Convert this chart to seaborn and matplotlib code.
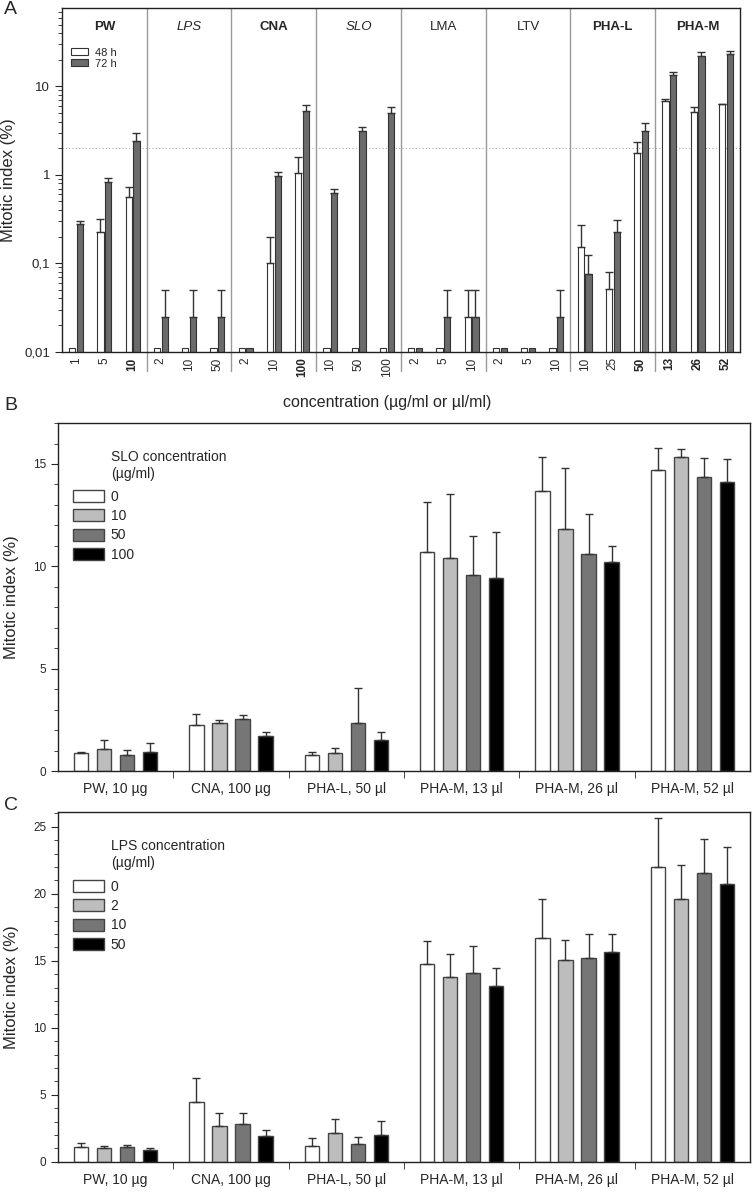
import numpy as np
import pandas as pd
import matplotlib
matplotlib.use("Agg")
import matplotlib.pyplot as plt
import matplotlib.ticker as mticker
from matplotlib.patches import Patch
from matplotlib.container import BarContainer
import seaborn as sns

# ---------------- data ----------------
# panel A: mitogens, 3 concentrations each, 48 h and 72 h
groups_a = ["PW", "LPS", "CNA", "SLO", "LMA", "LTV", "PHA-L", "PHA-M"]
group_style = ["bold", "italic", "bold", "italic", "normal", "normal", "bold", "bold"]
conc_a = ["1", "5", "10", "2", "10", "50", "2", "10", "100", "10", "50", "100",
          "2", "5", "10", "2", "5", "10", "10", "25", "50", "13", "26", "52"]
bold_conc = [2, 8, 20, 21, 22, 23]
mean_48 = [0.011, 0.228, 0.558, 0.011, 0.011, 0.011, 0.011, 0.10, 1.06,
           0.011, 0.011, 0.011, 0.011, 0.011, 0.025, 0.011, 0.011, 0.011,
           0.152, 0.051, 1.75, 6.85, 5.19, 6.29]
top_48 = [np.nan, 0.315, 0.724, np.nan, np.nan, np.nan, np.nan, 0.20, 1.58,
          np.nan, np.nan, np.nan, np.nan, np.nan, 0.05, np.nan, np.nan, np.nan,
          0.273, 0.080, 2.38, 7.28, 5.91, 6.40]
mean_72 = [0.279, 0.838, 2.40, 0.025, 0.025, 0.025, 0.011, 0.97, 5.32,
           0.629, 3.16, 4.98, 0.011, 0.025, 0.025, 0.011, 0.011, 0.025,
           0.075, 0.228, 3.14, 13.4, 22.1, 23.1]
top_72 = [0.303, 0.93, 3.0, 0.05, 0.05, 0.05, np.nan, 1.09, 6.22,
          0.687, 3.51, 5.91, np.nan, 0.05, 0.05, np.nan, np.nan, 0.05,
          0.124, 0.311, 3.84, 14.7, 24.4, 24.8]

# panels B and C: combinations
combos = ["PW, 10 µg", "CNA, 100 µg", "PHA-L, 50 µl",
          "PHA-M, 13 µl", "PHA-M, 26 µl", "PHA-M, 52 µl"]
slo_levels = ["0", "10", "50", "100"]
slo_mean = [[0.86, 1.06, 0.78, 0.91],
            [2.26, 2.36, 2.55, 1.69],
            [0.80, 0.86, 2.36, 1.53],
            [10.72, 10.42, 9.60, 9.43],
            [13.67, 11.82, 10.59, 10.23],
            [14.73, 15.35, 14.34, 14.10]]
slo_top = [[0.93, 1.50, 1.02, 1.38],
           [2.81, 2.50, 2.75, 1.89],
           [0.91, 1.14, 4.08, 1.92],
           [13.14, 13.53, 11.50, 11.70],
           [15.35, 14.81, 12.57, 11.01],
           [15.76, 15.72, 15.27, 15.22]]
lps_levels = ["0", "2", "10", "50"]
lps_mean = [[1.10, 1.05, 1.10, 0.90],
            [4.45, 2.70, 2.80, 1.90],
            [1.18, 2.17, 1.30, 2.00],
            [14.78, 13.76, 14.08, 13.14],
            [16.70, 15.03, 15.23, 15.66],
            [21.98, 19.63, 21.53, 20.75]]
lps_top = [[1.42, 1.18, 1.23, 1.05],
           [6.22, 3.67, 3.60, 2.35],
           [1.75, 3.22, 1.87, 3.07],
           [16.48, 15.50, 16.13, 14.49],
           [19.58, 16.55, 17.00, 17.00],
           [25.67, 22.17, 24.05, 23.52]]

time_colors = ["#ffffff", "#6b6b6b"]
level_colors = ["#ffffff", "#bdbdbd", "#767676", "#000000"]

sns.set_style("ticks")
plt.rcParams["font.family"] = ["Liberation Sans", "DejaVu Sans"]
plt.rcParams["axes.linewidth"] = 1.0
plt.rcParams["axes.edgecolor"] = "#222222"

fig = plt.figure(figsize=(7.52, 11.91), dpi=100)


def add_errors(ax, means, tops):
    # upper error bars drawn on the bars seaborn made
    bars = [c for c in ax.containers if isinstance(c, BarContainer)]
    for i, cont in enumerate(bars):
        for bar, m, t in zip(cont, means[i], tops[i]):
            if np.isnan(t):
                continue
            x = bar.get_x() + bar.get_width() / 2
            ax.errorbar([x], [m], yerr=[[0], [t - m]], fmt="none", ecolor="#333333",
                        elinewidth=1.0, capsize=3, capthick=1.0, zorder=3)


# ---------------- panel A ----------------
axA = fig.add_axes([0.0824, 0.7047, 0.9016, 0.2886])
ids = [f"{groups_a[i // 3]}|{c}" for i, c in enumerate(conc_a)]
dfA = pd.DataFrame({
    "cond": ids * 2,
    "time": ["48 h"] * 24 + ["72 h"] * 24,
    "value": mean_48 + mean_72,
})
sns.barplot(data=dfA, x="cond", y="value", hue="time", order=ids,
            hue_order=["48 h", "72 h"], palette=time_colors, width=0.55, gap=0.2,
            edgecolor="#333333", linewidth=0.8, errorbar=None, legend=False, ax=axA)
axA.set_yscale("log")
axA.set_ylim(0.01, 77)
add_errors(axA, np.array([mean_48, mean_72]), np.array([top_48, top_72]))
axA.axhline(2, color="#aaaaaa", lw=0.8, ls=(0, (1, 2)), zorder=0)
for g in range(7):
    axA.axvline(3 * g + 2.5, ymin=-0.055, ymax=1, color="#9a9a9a", lw=1.0,
                clip_on=False, zorder=0)
for g, name in enumerate(groups_a):
    axA.text(3 * g + 1, 0.945, name, transform=axA.get_xaxis_transform(),
             ha="center", va="center", fontsize=9.5,
             fontweight="bold" if group_style[g] == "bold" else "normal",
             fontstyle="italic" if group_style[g] == "italic" else "normal")
axA.set_xlim(-0.5, len(conc_a) - 0.5)
axA.set_xticks(range(24), labels=conc_a, rotation=90, fontsize=8.5)
for i, lab in enumerate(axA.get_xticklabels()):
    if i in bold_conc:
        lab.set_fontweight("bold")
axA.tick_params(axis="x", length=0, pad=4)
axA.yaxis.set_major_formatter(mticker.FuncFormatter(lambda v, _: f"{v:g}".replace(".", ",")))
axA.yaxis.set_minor_formatter(mticker.NullFormatter())
axA.tick_params(axis="y", which="major", length=5, labelsize=9.5)
axA.tick_params(axis="y", which="minor", length=3)
axA.set_xlabel("")
axA.set_ylabel("Mitotic index (%)", fontsize=12, labelpad=6)
axA.legend(handles=[Patch(facecolor=c, edgecolor="#333333", lw=0.8) for c in time_colors],
           labels=["48 h", "72 h"], loc="upper left", bbox_to_anchor=(0.014, 0.885),
           frameon=False, fontsize=8, handlelength=1.5, handleheight=0.6,
           labelspacing=0.1, handletextpad=0.6, borderpad=0, borderaxespad=0)

fig.text(387 / 752, 1 - 402 / 1191, "concentration (µg/ml or µl/ml)",
         ha="center", va="center", fontsize=11.5)


# ---------------- panels B and C ----------------
def combo_panel(rect, levels, means, tops, ymax, major, title, leg_y, title_y):
    ax = fig.add_axes(rect)
    df = pd.DataFrame({
        "combo": [c for c in combos for _ in levels],
        "level": levels * len(combos),
        "value": np.array(means).ravel(),
    })
    sns.barplot(data=df, x="combo", y="value", hue="level", order=combos,
                hue_order=levels, palette=level_colors, width=0.8, gap=0.38,
                edgecolor="#444444", linewidth=1.0, errorbar=None, legend=False, ax=ax)
    add_errors(ax, np.array(means).T, np.array(tops).T)
    ax.set_ylim(0, ymax)
    ax.set_xlim(-0.5, len(combos) - 0.5)
    ax.yaxis.set_major_locator(mticker.MultipleLocator(major))
    ax.yaxis.set_minor_locator(mticker.MultipleLocator(1))
    ax.tick_params(axis="y", which="major", length=5, labelsize=8.5)
    ax.tick_params(axis="y", which="minor", length=3)
    ax.set_xticks(range(len(combos)), labels=combos, fontsize=10)
    ax.set_xticks(np.arange(0.5, len(combos) - 0.5, 1), minor=True)
    ax.tick_params(axis="x", which="major", length=0, pad=8)
    ax.tick_params(axis="x", which="minor", length=5)
    ax.set_xlabel("")
    ax.set_ylabel("Mitotic index (%)", fontsize=12, labelpad=10)
    ax.legend(handles=[Patch(facecolor=c, edgecolor="#444444", lw=1.0) for c in level_colors],
              labels=levels, loc="upper left", bbox_to_anchor=(0.021, leg_y),
              frameon=False, fontsize=10, handlelength=2.3, handleheight=0.95,
              labelspacing=0.38, handletextpad=0.45, borderpad=0, borderaxespad=0)
    ax.text(0.0766, title_y, title, transform=ax.transAxes, ha="left", va="top",
            fontsize=10, linespacing=1.25)
    return ax


axB = combo_panel([0.0771, 0.3526, 0.9202, 0.2922], slo_levels, slo_mean, slo_top,
                  17, 5, "SLO concentration\n(µg/ml)", 0.808, 0.922)
axC = combo_panel([0.0771, 0.0246, 0.9202, 0.2936], lps_levels, lps_mean, lps_top,
                  26.1, 5, "LPS concentration\n(µg/ml)", 0.806, 0.922)

for letter, y in [("A", 10), ("B", 405), ("C", 805)]:
    fig.text(4 / 752, 1 - y / 1191, letter, ha="left", va="center", fontsize=14)

fig.savefig("out.png", dpi=100)
